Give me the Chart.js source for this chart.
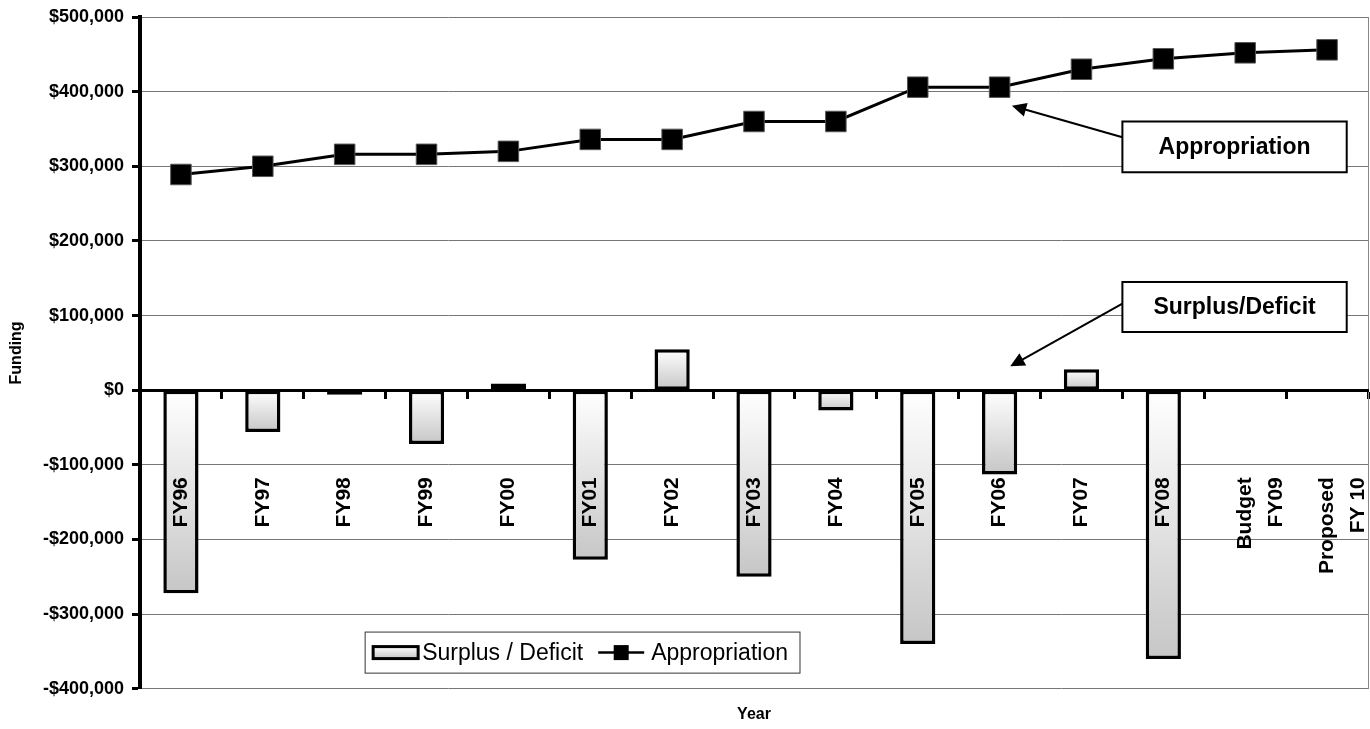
<!DOCTYPE html>
<html>
<head>
    <title>Funding by Year</title>
    <script src="https://cdn.jsdelivr.net/npm/chart.js@4.4.1/dist/chart.umd.min.js"></script>
    <style>
        html, body { margin: 0; padding: 0; background: #fff; overflow: hidden; }
        #wrap { width: 1370px; height: 729px; }
        canvas { display: block; }
    </style>
</head>
<body>
<div id="wrap"><canvas id="fundChart"></canvas></div>
<script>
    // values
    const years = ['FY96', 'FY97', 'FY98', 'FY99', 'FY00', 'FY01', 'FY02', 'FY03', 'FY04',
        'FY05', 'FY06', 'FY07', 'FY08', ['Budget', 'FY09'], ['Proposed', 'FY 10']];
    const surplus = [-272000, -56000, -6000, -72000, 9000, -227000, 55000, -250000, -27000,
        -340000, -113000, 28000, -360000, null, null];
    const appropriation = [289000, 300000, 316000, 316000, 320000, 336000, 336000, 360000, 360000,
        406000, 406000, 430000, 444000, 452000, 456000];
    const yTickValues = [-400000, -300000, -200000, -100000, 0, 100000, 200000, 300000, 400000, 500000];

    const FONT = '"Liberation Sans", Arial, sans-serif';
    Chart.defaults.font.family = FONT;
    Chart.defaults.color = '#000';

    function money(v) {
        return (v < 0 ? '-$' : '$') + Math.abs(v).toLocaleString('en-US');
    }

    // white-to-grey fill, one gradient per bar
    function barFill(c) {
        const y = c.chart.scales.y;
        if (!y || c.raw == null) return '#ddd';
        const top = y.getPixelForValue(Math.max(c.raw, 0));
        const bot = y.getPixelForValue(Math.min(c.raw, 0));
        if (!isFinite(top) || !isFinite(bot)) return '#ddd';
        const g = c.chart.ctx.createLinearGradient(0, top, 0, bot + 0.01);
        g.addColorStop(0, '#ffffff');
        g.addColorStop(1, '#c6c6c6');
        return g;
    }

    function arrow(ctx, x1, y1, x2, y2) {
        const ang = Math.atan2(y2 - y1, x2 - x1);
        const head = 16, spread = 0.45;
        ctx.beginPath();
        ctx.moveTo(x1, y1);
        ctx.lineTo(x2 - Math.cos(ang) * head * 0.8, y2 - Math.sin(ang) * head * 0.8);
        ctx.stroke();
        ctx.beginPath();
        ctx.moveTo(x2, y2);
        ctx.lineTo(x2 - head * Math.cos(ang - spread), y2 - head * Math.sin(ang - spread));
        ctx.lineTo(x2 - head * Math.cos(ang + spread), y2 - head * Math.sin(ang + spread));
        ctx.closePath();
        ctx.fill();
    }

    // callout boxes with arrows, placed in data units
    const callouts = {
        id: 'callouts',
        afterDraw(chart) {
            const { ctx, scales: { x, y } } = chart;
            const notes = [
                { text: 'Appropriation', box: [11.5, 14.24, 360000, 292000], from: [11.5, 339000], to: [10.15, 381000] },
                { text: 'Surplus/Deficit', box: [11.5, 14.24, 145000, 78000], from: [11.5, 116000], to: [10.13, 32000] }
            ];
            ctx.save();
            for (const n of notes) {
                const bx1 = x.getPixelForValue(n.box[0]), bx2 = x.getPixelForValue(n.box[1]);
                const by1 = y.getPixelForValue(n.box[2]), by2 = y.getPixelForValue(n.box[3]);
                ctx.strokeStyle = '#000';
                ctx.fillStyle = '#000';
                ctx.lineWidth = 2;
                arrow(ctx, x.getPixelForValue(n.from[0]), y.getPixelForValue(n.from[1]),
                    x.getPixelForValue(n.to[0]), y.getPixelForValue(n.to[1]));
                ctx.fillStyle = '#fff';
                ctx.fillRect(bx1, by1, bx2 - bx1, by2 - by1);
                ctx.strokeRect(bx1, by1, bx2 - bx1, by2 - by1);
                ctx.fillStyle = '#000';
                ctx.font = 'bold 23px ' + FONT;
                ctx.textAlign = 'center';
                ctx.textBaseline = 'middle';
                ctx.fillText(n.text, (bx1 + bx2) / 2, (by1 + by2) / 2 + 1);
            }
            ctx.restore();
        }
    };

    // boxed legend sitting inside the plot
    const boxLegend = {
        id: 'boxLegend',
        afterDraw(chart) {
            const { ctx, scales: { x, y } } = chart;
            const left = x.getPixelForValue(2.25);
            const top = y.getPixelForValue(-324000);
            const bottom = y.getPixelForValue(-379000);
            const mid = (top + bottom) / 2;
            ctx.save();
            ctx.font = '23px ' + FONT;
            const t1 = 'Surplus / Deficit', t2 = 'Appropriation';
            const w1 = ctx.measureText(t1).width, w2 = ctx.measureText(t2).width;
            const sw = 45;
            const lineX = left + 8 + sw + 4 + w1 + 15;
            const t2X = lineX + 46 + 7;
            const right = t2X + w2 + 12;

            ctx.fillStyle = '#fff';
            ctx.fillRect(left, top, right - left, bottom - top);
            ctx.strokeStyle = '#333';
            ctx.lineWidth = 1;
            ctx.strokeRect(left, top, right - left, bottom - top);

            const g = ctx.createLinearGradient(0, mid - 6, 0, mid + 6);
            g.addColorStop(0, '#ffffff');
            g.addColorStop(1, '#c6c6c6');
            ctx.fillStyle = g;
            ctx.fillRect(left + 8, mid - 6, sw, 12);
            ctx.strokeStyle = '#000';
            ctx.lineWidth = 3;
            ctx.strokeRect(left + 8, mid - 6, sw, 12);

            ctx.lineWidth = 2.5;
            ctx.beginPath();
            ctx.moveTo(lineX, mid);
            ctx.lineTo(lineX + 46, mid);
            ctx.stroke();
            ctx.fillStyle = '#000';
            ctx.fillRect(lineX + 23 - 7.5, mid - 7.5, 15, 15);

            ctx.textAlign = 'left';
            ctx.textBaseline = 'middle';
            ctx.fillText(t1, left + 8 + sw + 4, mid + 1);
            ctx.fillText(t2, t2X, mid + 1);
            ctx.restore();
        }
    };

    const ctx = document.getElementById('fundChart').getContext('2d');
    const chart = new Chart(ctx, {
        type: 'bar',
        data: {
            labels: years,
            datasets: [
                {
                    type: 'line',
                    label: 'Appropriation',
                    data: appropriation,
                    borderColor: '#000',
                    borderWidth: 3,
                    tension: 0,
                    pointStyle: 'rect',
                    pointRadius: 14.5,
                    pointBackgroundColor: '#000',
                    pointBorderColor: '#555',
                    pointBorderWidth: 1,
                    order: 0
                },
                {
                    type: 'bar',
                    label: 'Surplus / Deficit',
                    data: surplus,
                    backgroundColor: barFill,
                    borderColor: '#000',
                    borderWidth: 3.5,
                    borderSkipped: false,
                    barPercentage: 0.43,
                    categoryPercentage: 1,
                    order: 1
                }
            ]
        },
        options: {
            responsive: true,
            maintainAspectRatio: false,
            animation: false,
            events: [],
            layout: { autoPadding: false, padding: { top: 17, right: 2, left: 0, bottom: 0 } },
            plugins: {
                legend: { display: false },
                tooltip: { enabled: false }
            },
            scales: {
                x: {
                    position: { y: 0 },
                    offset: true,
                    afterFit: s => { s.paddingLeft = 0; s.paddingRight = 0; },
                    border: { color: '#000', width: 3, z: 1 },
                    grid: { offset: true, drawOnChartArea: false, drawTicks: true, tickLength: 7, tickWidth: 3, tickColor: '#000' },
                    ticks: {
                        z: 1, minRotation: 90, maxRotation: 90, autoSkip: false, padding: 80,
                        color: '#000', font: { size: 21, weight: 'bold', lineHeight: 1.5 }
                    }
                },
                x2: {
                    type: 'category',
                    labels: years,
                    position: 'bottom',
                    grid: { display: false, drawTicks: false },
                    border: { display: false },
                    ticks: { display: false },
                    title: { display: true, text: 'Year', color: '#000', font: { size: 16, weight: 'bold' }, padding: { top: 16, bottom: 5 } }
                },
                y: {
                    position: 'left',
                    min: -400000,
                    max: 500000,
                    afterBuildTicks: s => { s.ticks = yTickValues.map(v => ({ value: v })); },
                    afterFit: s => { s.width = 140; s.paddingTop = 0; s.paddingBottom = 0; },
                    border: { color: '#000', width: 4 },
                    grid: { color: '#777', lineWidth: 1, tickColor: '#000', tickWidth: 3, tickLength: 8 },
                    ticks: { padding: 8, color: '#000', font: { size: 18, weight: 'bold' }, callback: v => money(v) },
                    title: { display: true, text: 'Funding', color: '#000', font: { size: 16, weight: 'bold' }, padding: { top: 7, bottom: 0 } }
                },
                y2: {
                    position: 'right',
                    min: -400000,
                    max: 500000,
                    afterFit: s => { s.width = 0; },
                    grid: { display: false, drawTicks: false },
                    border: { color: '#888', width: 1 },
                    ticks: { display: false }
                }
            }
        },
        plugins: [callouts, boxLegend]
    });
</script>
</body>
</html>
